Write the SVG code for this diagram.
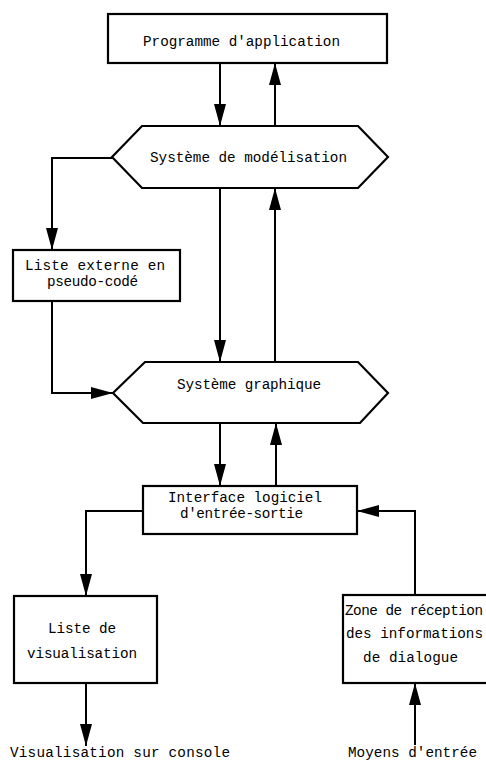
<svg xmlns="http://www.w3.org/2000/svg" width="486" height="763" viewBox="0 0 486 763">
<style>
.box{fill:#fff;stroke:#000;stroke-width:2.2}
.ln{fill:none;stroke:#000;stroke-width:2}
.t{font-family:"Liberation Mono","DejaVu Sans Mono",monospace;font-size:14.3px;fill:#000}
</style>
<defs>
<marker id="ah" markerUnits="userSpaceOnUse" markerWidth="24" markerHeight="14" refX="22" refY="6" orient="auto">
<path d="M0,0 L22,6 L0,12 z" fill="#000"/>
</marker>
</defs>
<rect width="486" height="763" fill="#fff"/>
<g id="connectors">
<line class="ln" x1="220" y1="63" x2="220" y2="126" marker-end="url(#ah)"/>
<line class="ln" x1="275" y1="126" x2="275" y2="63" marker-end="url(#ah)"/>
<polyline class="ln" points="112,158 52,158 52,250" marker-end="url(#ah)"/>
<polyline class="ln" points="52,301 52,393 113,393" marker-end="url(#ah)"/>
<line class="ln" x1="220" y1="188" x2="220" y2="362" marker-end="url(#ah)"/>
<line class="ln" x1="275" y1="362" x2="275" y2="188" marker-end="url(#ah)"/>
<line class="ln" x1="220" y1="423" x2="220" y2="486" marker-end="url(#ah)"/>
<line class="ln" x1="276" y1="486" x2="276" y2="423" marker-end="url(#ah)"/>
<polyline class="ln" points="143,511 86,511 86,596" marker-end="url(#ah)"/>
<line class="ln" x1="86" y1="683" x2="86" y2="746" marker-end="url(#ah)"/>
<polyline class="ln" points="415,595 415,511 357,511" marker-end="url(#ah)"/>
<line class="ln" x1="415" y1="745" x2="415" y2="683" marker-end="url(#ah)"/>
</g>
<g id="programme">
<rect class="box" x="108" y="14" width="279" height="49"/>
<text class="t" x="143" y="46" textLength="197">Programme d'application</text>
</g>
<g id="modelisation">
<polygon class="box" points="112,157 142,126 358,126 388,157 358,188 142,188"/>
<text class="t" x="150" y="162" textLength="197">Système de modélisation</text>
</g>
<g id="liste-externe">
<rect class="box" x="13" y="250" width="167" height="51"/>
<text class="t" x="25" y="270" textLength="140">Liste externe en</text>
<text class="t" x="47" y="286" textLength="91">pseudo-codé</text>
</g>
<g id="graphique">
<polygon class="box" points="113,393 145,362 358,362 388,393 360,423 143,423"/>
<text class="t" x="177" y="389" textLength="144">Système graphique</text>
</g>
<g id="interface">
<rect class="box" x="143" y="486" width="214" height="48"/>
<text class="t" x="168" y="502" textLength="154">Interface logiciel</text>
<text class="t" x="180" y="518" textLength="123">d'entrée-sortie</text>
</g>
<g id="liste-visu">
<rect class="box" x="14" y="596" width="143" height="87"/>
<text class="t" x="48" y="633" textLength="68">Liste de</text>
<text class="t" x="27" y="658" textLength="110">visualisation</text>
</g>
<g id="zone">
<rect class="box" x="343" y="595" width="160" height="88"/>
<text class="t" x="345" y="615" textLength="138">Zone de réception</text>
<text class="t" x="346" y="638" textLength="137">des informations</text>
<text class="t" x="363" y="662" textLength="95">de dialogue</text>
</g>
<g id="console">
<text class="t" x="10" y="757" textLength="220">Visualisation sur console</text>
</g>
<g id="moyens">
<text class="t" x="348" y="757" textLength="129">Moyens d'entrée</text>
</g>
</svg>
